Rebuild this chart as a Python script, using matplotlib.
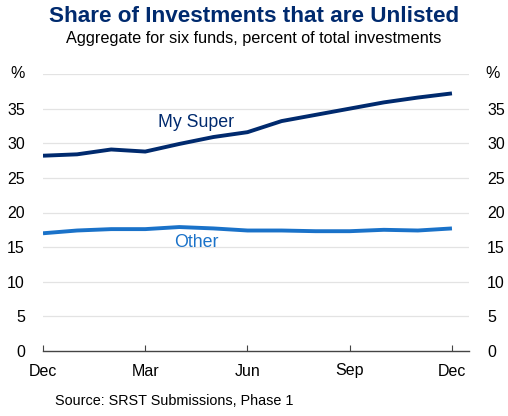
import numpy as np
from matplotlib import pyplot as plt

# monthly observations, Dec to Dec
months = np.arange(13)
my_super = [28.2, 28.4, 29.1, 28.8, 29.9, 30.9, 31.6, 33.2, 34.1, 35.0, 35.9, 36.6, 37.2]
other = [17.0, 17.4, 17.6, 17.6, 17.9, 17.7, 17.4, 17.4, 17.3, 17.3, 17.5, 17.4, 17.7]
tick_pos = [0, 3, 6, 9, 12]
tick_labels = ['Dec', 'Mar', 'Jun', 'Sep', 'Dec']
y_ticks = [0, 5, 10, 15, 20, 25, 30, 35]

plt.rcParams['font.family'] = ['Liberation Sans', 'DejaVu Sans']

navy = '#002a6e'
blue = '#1a72c9'

fig = plt.figure(figsize=(5.08, 4.16), dpi=100)
ax = fig.add_axes([43/508, 1 - 351/416, (469-43)/508, (351-74)/416])

ax.plot(months, my_super, color=navy, lw=2.8, solid_capstyle='butt')
ax.plot(months, other, color=blue, lw=2.8, solid_capstyle='butt')

ax.set_xlim(0, 12.5)
ax.set_ylim(0, 40)

# gridlines
for v in [5, 10, 15, 20, 25, 30, 35, 40]:
    ax.axhline(v, color='#e3e3e3', lw=0.9, zorder=0)

for s in ['top', 'right', 'left']:
    ax.spines[s].set_visible(False)
ax.spines['bottom'].set_color('#444444')
ax.spines['bottom'].set_linewidth(1.0)

ax.set_xticks(tick_pos)
ax.set_xticklabels(tick_labels, fontsize=11.5)
ax.tick_params(axis='x', direction='in', length=4, color='#444444', pad=9)

ax.set_yticks(y_ticks)
ax.set_yticklabels([str(v) for v in y_ticks], fontsize=11.5)
ax.tick_params(axis='y', length=0, pad=13, labelright=True, right=False)
ax.yaxis.set_tick_params(which='both', labelleft=True, labelright=True)

# % unit labels
ax.text(-0.06, 40, '%', transform=ax.get_yaxis_transform(), ha='center', va='center', fontsize=11.5)
ax.text(1.055, 40, '%', transform=ax.get_yaxis_transform(), ha='center', va='center', fontsize=11.5)

ax.text(4.5, 33.0, 'My Super', color=navy, fontsize=12.8, ha='center', va='center')
ax.text(4.5, 15.7, 'Other', color=blue, fontsize=12.8, ha='center', va='center')

fig.text(0.5, 1 - 16/416, 'Share of Investments that are Unlisted', color=navy,
         fontsize=16.2, fontweight='bold', ha='center', va='center')
fig.text(0.5, 1 - 38/416, 'Aggregate for six funds, percent of total investments',
         fontsize=11.7, ha='center', va='center')
fig.text(55/508, 1 - 401/416, 'Source: SRST Submissions, Phase 1', fontsize=10.4, ha='left', va='center')

fig.savefig('out.png', dpi=100)
